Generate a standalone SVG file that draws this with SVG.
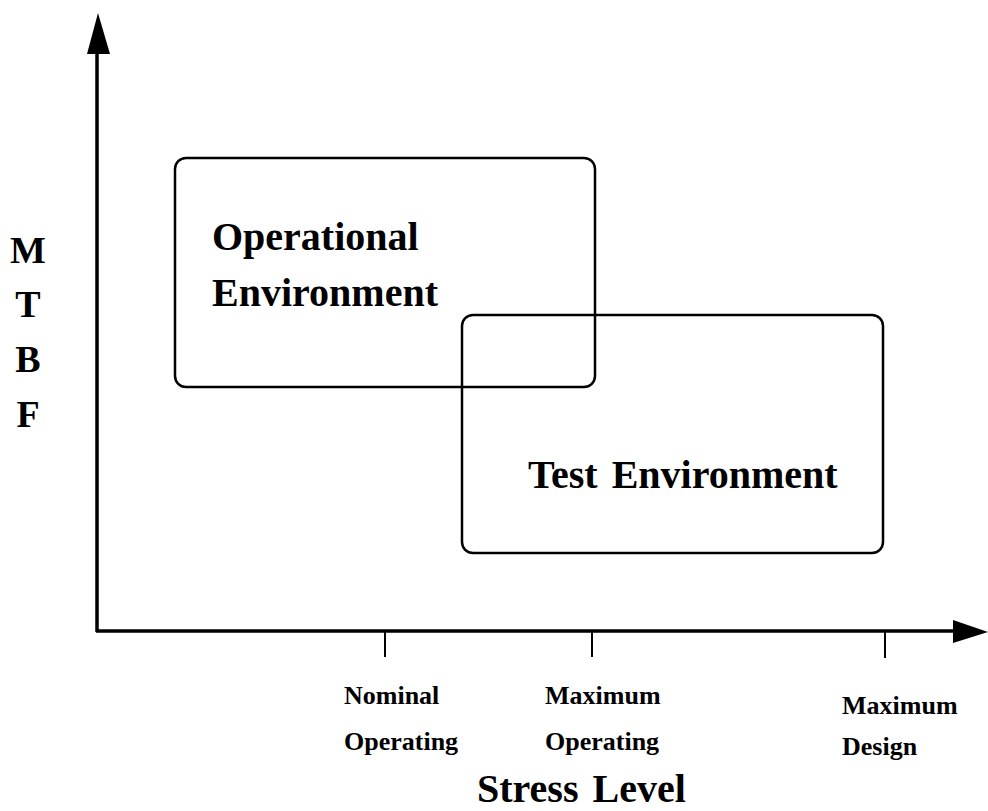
<svg xmlns="http://www.w3.org/2000/svg" width="988" height="811" viewBox="0 0 988 811">
  <style>
    .axis { stroke: #000; stroke-width: 3.5; fill: none; }
    .tick { stroke: #000; stroke-width: 2; fill: none; }
    .box { stroke: #000; stroke-width: 2.5; fill: none; }
    .big { font-family: "Liberation Serif", "Times New Roman", serif; font-weight: bold; font-size: 40px; fill: #000; }
    .ylab { font-family: "Liberation Serif", "Times New Roman", serif; font-weight: bold; font-size: 38px; fill: #000; text-anchor: middle; }
    .tlab { font-family: "Liberation Serif", "Times New Roman", serif; font-weight: bold; font-size: 26px; fill: #000; }
  </style>
  <rect width="988" height="811" fill="#fff"/>

  <!-- axes -->
  <g id="axes">
    <line class="axis" x1="97" y1="632" x2="97" y2="50"/>
    <polygon points="98,13 110,54 87,54" fill="#000"/>
    <line class="axis" x1="96" y1="631" x2="956" y2="631"/>
    <polygon points="988,632 953,620 953,643" fill="#000"/>
    <line class="tick" x1="385" y1="631" x2="385" y2="657"/>
    <line class="tick" x1="592" y1="631" x2="592" y2="657"/>
    <line class="tick" x1="885" y1="631" x2="885" y2="658"/>
  </g>

  <!-- y axis label -->
  <g id="y-label">
    <text class="ylab" x="28" y="263">M</text>
    <text class="ylab" x="28" y="317">T</text>
    <text class="ylab" x="28" y="372">B</text>
    <text class="ylab" x="28" y="427">F</text>
  </g>

  <!-- regions -->
  <g id="operational">
    <rect class="box" x="175" y="158" width="420" height="229" rx="11"/>
    <text class="big" x="212" y="250">Operational</text>
    <text class="big" x="212" y="306">Environment</text>
  </g>
  <g id="test">
    <rect class="box" x="462" y="315" width="421" height="238" rx="11"/>
    <text class="big" x="528" y="488" word-spacing="4">Test Environment</text>
  </g>

  <!-- x axis labels -->
  <g id="x-labels">
    <text class="tlab" x="344" y="704">Nominal</text>
    <text class="tlab" x="344" y="750">Operating</text>
    <text class="tlab" x="545" y="704">Maximum</text>
    <text class="tlab" x="545" y="750">Operating</text>
    <text class="tlab" x="842" y="714" font-size="27">Maximum</text>
    <text class="tlab" x="842" y="755" font-size="27">Design</text>
    <text class="big" x="477" y="802" word-spacing="4">Stress Level</text>
  </g>
</svg>
